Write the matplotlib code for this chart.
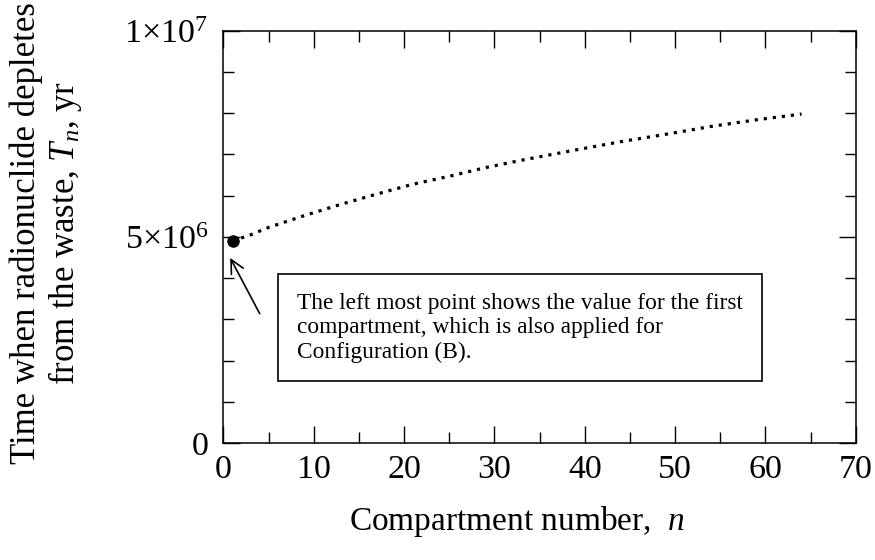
import matplotlib
matplotlib.use("Agg")
import matplotlib.pyplot as plt
from matplotlib.ticker import MultipleLocator, FixedLocator

plt.rcParams['font.family'] = ['Liberation Serif', 'DejaVu Serif']
plt.rcParams['mathtext.fontset'] = 'custom'
plt.rcParams['mathtext.rm'] = 'Liberation Serif'
plt.rcParams['mathtext.it'] = 'Liberation Serif:italic'

# compartment number and depletion time (yr)
n_vals = [1, 3, 5, 9, 13, 17, 21, 25, 29, 33, 39, 44, 49, 54, 59, 64]
t_vals = [4.90e6, 5.05e6, 5.23e6, 5.52e6, 5.79e6, 6.04e6, 6.28e6, 6.47e6,
          6.68e6, 6.86e6, 7.11e6, 7.31e6, 7.49e6, 7.68e6, 7.84e6, 7.98e6]

first_n = n_vals[0]
first_t = t_vals[0]

y_ticks = [0, 5e6, 1e7]
y_ticklabels = ['0', r'$5{\times}10^{6}$', r'$1{\times}10^{7}$']
note = ("The left most point shows the value for the first\n"
        "compartment, which is also applied for\n"
        "Configuration (B).")

fig = plt.figure(figsize=(8.75, 5.6), dpi=100)
ax = fig.add_axes([0.2554, 0.209, 0.7226, 0.736])

ax.plot(n_vals, t_vals, color='black', lw=2.3, linestyle=(0, (1, 1.85)),
        dash_capstyle='butt')
ax.plot([first_n], [first_t], 'o', color='black', ms=8)

ax.set_xlim(0, 70)
ax.set_ylim(0, 1e7)
ax.xaxis.set_major_locator(MultipleLocator(10))
ax.xaxis.set_minor_locator(MultipleLocator(5))
ax.yaxis.set_major_locator(FixedLocator(y_ticks))
ax.yaxis.set_minor_locator(MultipleLocator(1e6))
ax.set_yticklabels(y_ticklabels)

ax.tick_params(which='both', direction='in', top=True, right=True,
               width=1.0, labelsize=24.5)
ax.tick_params(which='major', length=12, pad=8)
ax.tick_params(axis='y', which='major', pad=11)
ax.tick_params(which='minor', length=8)
for s in ax.spines.values():
    s.set_linewidth(1.1)

ax.set_xlabel(r'Compartment number,  $\mathit{n}$', fontsize=24)
ax.xaxis.set_label_coords(0.464, -0.147)
ax.set_ylabel('Time when radionuclide depletes\nfrom the waste, $\\mathit{T_n}$, yr',
              fontsize=25, linespacing=1.1)
ax.yaxis.set_label_coords(-0.221, 0.51)

ax.annotate('', xy=(0.6, 4.55e6), xytext=(4.15, 3.08e6),
            arrowprops=dict(arrowstyle='->', color='black', lw=1.2,
                            mutation_scale=24))

ax.text(8.15, 2.79e6, note, fontsize=16.8, va='center', ha='left',
        linespacing=1.2,
        bbox=dict(boxstyle='square,pad=0.8', fc='white', ec='black', lw=1.2))

fig.savefig('out.png', dpi=100)
